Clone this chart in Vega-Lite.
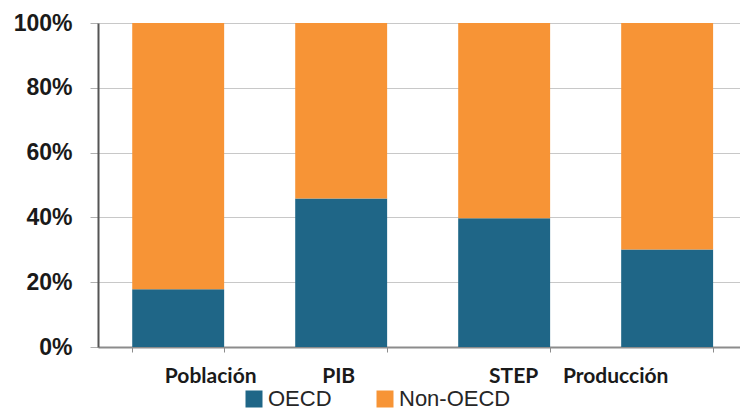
{
  "$schema": "https://vega.github.io/schema/vega-lite/v6.json",
  "autosize": {"type": "none"},
  "width": 642,
  "height": 324,
  "padding": {"left": 98, "top": 23, "right": 0, "bottom": 65},
  "background": "white",
  "data": {
    "values": [
      {"indicador": "Población", "grupo": "OECD", "pct": 17.8},
      {"indicador": "Población", "grupo": "Non-OECD", "pct": 82.2},
      {"indicador": "PIB", "grupo": "OECD", "pct": 45.8},
      {"indicador": "PIB", "grupo": "Non-OECD", "pct": 54.2},
      {"indicador": "STEP", "grupo": "OECD", "pct": 39.7},
      {"indicador": "STEP", "grupo": "Non-OECD", "pct": 60.3},
      {"indicador": "Producción", "grupo": "OECD", "pct": 30.1},
      {"indicador": "Producción", "grupo": "Non-OECD", "pct": 69.9}
    ]
  },
  "mark": {"type": "bar", "strokeWidth": 0},
  "encoding": {
    "x": {
      "field": "indicador",
      "type": "nominal",
      "sort": ["Población", "PIB", "STEP", "Producción"],
      "scale": {"paddingInner": 0.436, "paddingOuter": 0.1875, "align": 0.56},
      "axis": {
        "title": null,
        "labelAngle": 0,
        "labelFont": "Lato",
        "labelFontWeight": "bold",
        "labelFontSize": 21,
        "labelColor": "#1a1a1a",
        "labelPadding": 13,
        "labelOffset": {"expr": "datum.value === 'Población' ? 32 : datum.value === 'PIB' ? -3 : datum.value === 'STEP' ? 9 : -52"},
        "tickBand": "extent",
        "tickSize": 5,
        "tickColor": "#8c8c8c",
        "domainColor": "#8c8c8c",
        "domainWidth": 2
      }
    },
    "y": {
      "field": "pct",
      "type": "quantitative",
      "stack": "zero",
      "scale": {"domain": [0, 100], "nice": false},
      "axis": {
        "title": null,
        "values": [0, 20, 40, 60, 80, 100],
        "labelExpr": "datum.value + '%'",
        "labelFont": "Liberation Sans",
        "labelFontWeight": "bold",
        "labelFontSize": 23,
        "labelColor": "#1a1a1a",
        "labelPadding": 18,
        "tickSize": 8,
        "tickColor": "#b0b0b0",
        "domainColor": "#555555",
        "domainWidth": 2,
        "grid": true,
        "gridColor": "#c8c8c8",
        "gridWidth": 1
      }
    },
    "color": {
      "field": "grupo",
      "type": "nominal",
      "sort": ["OECD", "Non-OECD"],
      "scale": {"domain": ["OECD", "Non-OECD"], "range": ["#1F6687", "#F79436"]},
      "legend": {
        "title": null,
        "orient": "none",
        "direction": "horizontal",
        "legendX": 145,
        "legendY": 365,
        "symbolType": "square",
        "symbolSize": 289,
        "symbolStrokeWidth": 0,
        "labelFont": "Liberation Sans",
        "labelFontSize": 22,
        "labelColor": "#262626",
        "labelOffset": 3,
        "columnPadding": 42
      }
    }
  },
  "config": {"view": {"stroke": null}}
}
